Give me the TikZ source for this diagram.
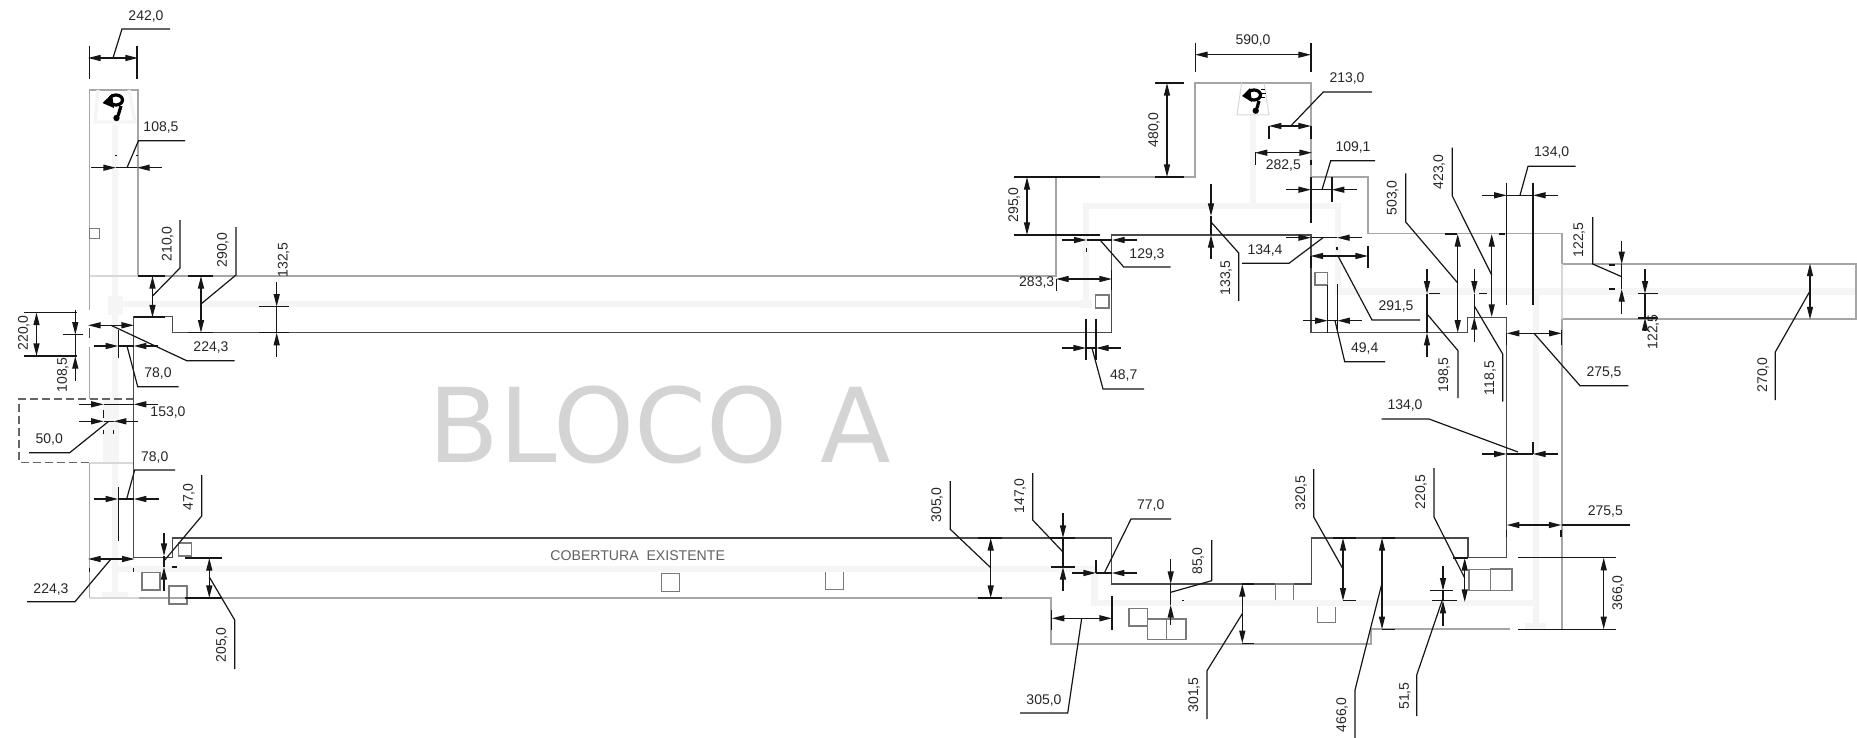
\documentclass[tikz,border=0pt]{standalone}
\usepackage{fontspec}
\setmainfont{Liberation Sans}
\newfontfamily\blocofont{DejaVu Sans}
\usetikzlibrary{arrows.meta}
\definecolor{wallg}{HTML}{A6A6A6}
\definecolor{walll}{HTML}{D8D8D8}
\definecolor{walld}{HTML}{4A4A4A}
\definecolor{bandc}{HTML}{F5F5F5}
\definecolor{dimc}{HTML}{161616}
\tikzset{
 wallgray/.style={draw=wallg,line width=0.9pt},
 walllight/.style={draw=walll,line width=0.8pt},
 walldark/.style={draw=walld,line width=0.65pt},
 bandline/.style={draw=bandc,line width=3.3pt},
 bandfill/.style={fill=bandc,draw=none},
 sq/.style={draw=black!52,line width=0.55pt},
 dimln/.style={draw=dimc,line width=0.6pt},
 dimtip/.style={dimln,-{Triangle[length=6.3pt,width=3pt]}},
 dimboth/.style={dimln,{Triangle[length=6.3pt,width=3pt]}-{Triangle[length=6.3pt,width=3pt]}},
 dimtxt/.style={font=\fontsize{7pt}{8pt}\selectfont,text=black!85,inner sep=0pt},
}
\newcount\lblcount
\newcommand\dtxt[3]{\global\advance\lblcount by 1 \node[dimtxt] (lbl\the\lblcount) at (#1,#2+1) {#3};}
\newcommand\vtxt[3]{\global\advance\lblcount by 1 \node[dimtxt,rotate=90] (lbl\the\lblcount) at (#1+1,#2) {#3};}
% horizontal dim, arrows from outside: y, x0, tipa, tipb, x3
\newcommand\hout[5]{\draw[dimtip] (#2,#1) -- (#3,#1); \draw[dimtip] (#5,#1) -- (#4,#1); \draw[dimln] (#3,#1) -- (#4,#1);}
\newcommand\vout[5]{\draw[dimtip] (#1,#2) -- (#1,#3); \draw[dimtip] (#1,#5) -- (#1,#4); \draw[dimln] (#1,#3) -- (#1,#4);}
\newcommand\hin[3]{\draw[dimboth] (#2,#1) -- (#3,#1);}
\newcommand\vin[3]{\draw[dimboth] (#1,#2) -- (#1,#3);}
\newcommand\lnn[4]{\draw[dimln] (#1,#2) -- (#3,#4);}
\newcommand\ldr[6]{\draw[dimln] (#1,#2) -- (#3,#4) -- (#5,#6);}
\begin{document}
\begin{tikzpicture}[x=0.5pt,y=-0.5pt]
\path[use as bounding box,fill=white] (0,0) rectangle (1857,738);
% light bands
\draw[bandline] (115,125) -- (115,598);
\draw[bandline] (115,304) -- (1086,304) -- (1086,206) -- (1338,206) -- (1338,291.5) -- (1855,291.5);
\draw[bandline] (1253,115) -- (1253,206);
\draw[bandline] (1536,291.5) -- (1536,623);
\draw[bandline] (115,569) -- (1094.7,569) -- (1094.7,603) -- (1536,603);
\fill[bandfill] (108,296) rectangle (123,315);
\fill[bandfill] (103,398) rectangle (119,462);
\fill[bandfill] (102,592) rectangle (128,598);
\fill[bandfill] (1525,623) rectangle (1546,629);
\fill[bandfill] (1080,300) rectangle (1092,308);
% grey outline
\draw[wallgray] (89.5,310) -- (89.5,90) -- (138,90) -- (138,276) -- (1055.7,276) -- (1055.7,176.7) -- (1195,176.7) -- (1195,82.7) -- (1311,82.7) -- (1311,176.7) -- (1368,176.7) -- (1368,233.5) -- (1561.7,233.5) -- (1561.7,264.3) -- (1855.7,264.3) -- (1855.7,319) -- (1561.7,319) -- (1561.7,629.3);
\draw[walllight] (89.5,276) -- (138,276);
\draw[walllight] (1561.7,264.3) -- (1561.7,319);
\draw[wallgray] (89.5,347) -- (89.5,399);
\draw[walld] (89.5,328) -- (89.5,338);
\draw[wallgray] (89.5,462.7) -- (89.5,598.2);
\draw[walllight] (89.5,598.2) -- (139,598.2);
\draw[walllight] (89.5,462.7) -- (133.7,462.7);
\draw[wallgray] (139,598.2) -- (1051.3,598.2) -- (1051.3,643.6) -- (1371,643.6) -- (1371,629.3) -- (1510,629.3);
% dashed box
\draw[draw=black!60,line width=0.6pt,dash pattern=on 4pt off 2pt] (133.7,399) -- (19,399) -- (19,462.7) -- (89.5,462.7);
% dark outline
\draw[walldark] (133.7,557.7) -- (133.7,316.7) -- (172.8,316.7) -- (172.8,332.7) -- (1111.7,332.7) -- (1111.7,235) -- (1311,235) -- (1311,332.7) -- (1467.3,332.7) -- (1467.3,317.3) -- (1506.7,317.3) -- (1506.7,557.7) -- (1468,557.7) -- (1468,538) -- (1311.3,538) -- (1311.3,584) -- (1111.7,584) -- (1111.7,538) -- (172.8,538) -- (172.8,557.7);
\draw[walld] (133.7,557.7) -- (172.8,557.7);
% squares
\draw[sq] (89.3,228.3) rectangle (99.3,238.3);
\draw[sq] (142,572.7) rectangle (160,590);
\draw[sq] (169,586) rectangle (187,604);
\draw[sq] (178.3,543) rectangle (191.3,556);
\draw[sq] (661.7,573.3) rectangle (679.7,591.7);
\draw[sq] (825.7,572) -- (825.7,589.3) -- (843.7,589.3) -- (843.7,572);
\draw[sq] (1095.7,295) rectangle (1109,308);
\draw[sq] (1315,272.3) rectangle (1327.7,285);
\draw[sq] (1129,608.7) rectangle (1147.3,626);
\draw[sq] (1147.3,619) rectangle (1166.7,639.3);
\draw[sq] (1166.7,619) rectangle (1186,639.3);
\draw[sq] (1275.7,600) -- (1275.7,584) -- (1293.3,584) -- (1293.3,600);
\draw[sq] (1317.3,606.7) -- (1317.3,622.7) -- (1335.7,622.7) -- (1335.7,606.7);
\draw[sq] (1469,569.3) rectangle (1490.7,590.7);
\draw[sq] (1490.7,569) rectangle (1512,590.7);
% symbols
\draw[draw=bandc,line width=1.6pt] (98,90) -- (95,122) -- (135,122) -- (129,90);
\draw[draw=walll,line width=0.5pt] (1241.7,82.7) -- (1237,115) -- (1269,115) -- (1264,82.7);
\draw[black,line width=1.6pt] (116,100) ellipse [x radius=6.5,y radius=5];
\fill[black] (102.5,103) -- (112,94) -- (114,108) -- cycle;
\draw[black,line width=1.6pt] (121,106) -- (118,116);
\fill[black] (116.5,118) circle [radius=3.2];
\draw[black,line width=1.6pt] (1254,95) ellipse [x radius=6.5,y radius=5];
\fill[black] (1242,96) -- (1250,88) -- (1252,102) -- cycle;
\draw[black,line width=1.6pt] (1259,101) -- (1257,108);
\fill[black] (1255.7,110.7) circle [radius=3.2];
\draw[black,line width=0.5pt] (1261,90) -- (1265,90) (1261,94) -- (1266,94) (1261,98) -- (1265,98);
% big labels
\node[font=\blocofont\fontsize{51.6pt}{52pt}\selectfont,text=black!17,inner sep=0pt] (bloco) at (660,424.5) {BLOCO A};
\node[font=\fontsize{7.05pt}{8pt}\selectfont,text=black!62,inner sep=0pt] (cobertura) at (637.7,556) {COBERTURA\ \ EXISTENTE};
% --- dimensions ---
% 242,0
\lnn{89.5}{46}{89.5}{79} \lnn{137}{46}{137}{79} \hin{58}{88}{138}
\ldr{113}{58}{122}{29}{170}{29} \dtxt{146}{15.5}{242,0}
% 108,5 top
\hout{167.7}{91}{116}{137}{162}
\ldr{127}{167.7}{138.5}{140.7}{185}{140.7} \dtxt{161}{127}{108,5}
\lnn{116}{154.5}{116}{156} \lnn{137}{154.5}{137}{156}
% 210,0
\lnn{138}{276}{165}{276} \lnn{134}{317}{165}{317} \vin{152.5}{276}{317.5}
\ldr{152.5}{296}{180}{268}{180}{220} \vtxt{166.7}{244}{210,0}
% 290,0
\lnn{188}{276}{213}{276} \lnn{188}{332.7}{213}{332.7} \vin{201}{276}{332.7}
\ldr{201}{304}{236}{275}{236}{227} \vtxt{222}{250}{290,0}
% 132,5
\lnn{258.7}{306.7}{289}{306.7} \lnn{258.7}{332.7}{289}{332.7} \vout{276.7}{282}{306.7}{332.7}{357}
\vtxt{282.7}{260}{132,5}
% 220,0
\lnn{24}{312.5}{77}{312.5} \lnn{24}{356}{77}{356} \vin{36.5}{312.5}{356}
\vtxt{23}{333}{220,0}
% 108,5 left
\vout{75.3}{310}{334.7}{356}{381} \lnn{63}{334.7}{83}{334.7}
\vtxt{62}{375}{108,5}
% 224,3 top
\hin{325.3}{88}{134} \ldr{111}{325.3}{186.7}{360.7}{234.7}{360.7} \dtxt{211}{347}{224,3}
% 78,0
\hout{346}{94}{118.3}{133.7}{158} \lnn{118.3}{330}{118.3}{358}
\ldr{127}{346}{137.7}{386.7}{178.7}{386.7} \dtxt{158}{373}{78,0}
% 153,0
\hout{404.3}{79}{103.7}{133.7}{158} \lnn{103.7}{410}{103.7}{418} \dtxt{168}{411.7}{153,0}
% 50,0
\hout{421.3}{79}{103.7}{113.7}{138}
\ldr{108.7}{421.3}{69.7}{452.7}{29}{452.7} \dtxt{49.3}{439}{50,0}
\lnn{103.7}{430}{103.7}{434} \lnn{113.7}{430}{113.7}{434}
% 78,0 lower
\hout{499}{94}{118.3}{133.7}{158.7} \lnn{118.3}{486.7}{118.3}{540.7}
\ldr{126.7}{499}{134.7}{470}{175}{470} \dtxt{154.7}{456.7}{78,0}
% 47,0
\vout{164}{533.3}{556}{567}{591}
\lnn{172}{567}{177}{567}
\ldr{164}{561}{201.7}{516}{201.7}{475} \vtxt{188}{497}{47,0}
% 224,3 lower
\hin{559}{88}{134.7} \ldr{111}{559}{75}{601.7}{27}{601.7} \dtxt{51}{588.7}{224,3}
\lnn{89.5}{568}{89.5}{572} \lnn{133.7}{568}{133.7}{572}
% 205,0
\lnn{185}{557.9}{222}{557.9} \lnn{185}{598}{222}{598} \vin{209.3}{558}{598}
\ldr{209.3}{577}{234.7}{620}{234.7}{669} \vtxt{221}{645}{205,0}
% 305,0 left
\lnn{978}{538}{1002}{538} \lnn{978}{598}{1002}{598} \vin{990.7}{538}{598}
\ldr{990.7}{567.7}{950.3}{529.3}{950.3}{481} \vtxt{936}{505}{305,0}
% 147,0
\vout{1063}{513}{538}{567}{591} \lnn{1050}{538}{1075}{538} \lnn{1051}{567}{1075}{567}
\ldr{1063}{552}{1032.7}{520}{1032.7}{473} \vtxt{1019}{496}{147,0}
% 77,0
\hout{573}{1072}{1096}{1111.7}{1136.7} \lnn{1096}{560}{1096}{573}
\ldr{1104.3}{573}{1131}{519}{1171}{519} \dtxt{1150.7}{505}{77,0}
% 85,0
\vout{1170.7}{559}{584}{605}{625}
\ldr{1170.7}{592.3}{1211.7}{580.7}{1211.7}{540} \vtxt{1197}{561}{85,0}
\lnn{1183}{600}{1183}{601}
% 305,0 lower
\lnn{1051.7}{610}{1051.7}{630} \lnn{1112}{596}{1112}{630} \hin{618.3}{1051.7}{1112}
\ldr{1081.7}{618.3}{1067.7}{713}{1020}{713} \dtxt{1044}{699}{305,0}
% 301,5
\lnn{1242.3}{584}{1254}{584} \lnn{1242.3}{643.3}{1254}{643.3} \vin{1242.3}{584}{643.3}
\ldr{1242.3}{613.7}{1207}{670.7}{1207}{719} \vtxt{1193}{695}{301,5}
% 320,5
\lnn{1333}{538}{1356}{538} \lnn{1343}{600.7}{1356}{600.7} \vin{1343}{538}{600.7}
\ldr{1343}{569}{1313.7}{517}{1313.7}{469} \vtxt{1300}{493}{320,5}
% 466,0
\lnn{1382}{538}{1395}{538} \lnn{1382}{629.3}{1395}{629.3} \vin{1382}{538}{629.3}
\ldr{1382}{583}{1355}{690}{1355}{738} \vtxt{1341}{715}{466,0}
% 220,5
\lnn{1453}{557.9}{1468}{557.9} \vin{1464.7}{558}{602}
\ldr{1464.7}{578}{1434}{517}{1434}{468} \vtxt{1420}{492}{220,5}
% 51,5
\vout{1443}{566}{590.7}{600.7}{625.7} \lnn{1430}{590.7}{1453}{590.7} \lnn{1432}{600.7}{1457}{600.7}
\ldr{1443}{598}{1416.7}{675}{1416.7}{716} \vtxt{1404}{696}{51,5}
% 134,0 lower
\hout{454}{1482}{1506.7}{1533}{1558} \lnn{1533}{441.7}{1533}{454}
\ldr{1518}{452}{1429}{419}{1381.7}{419} \dtxt{1405}{405}{134,0}
% 275,5 lower
\hin{525}{1506.7}{1561.5} \lnn{1561.5}{525}{1630}{525} \lnn{1506.7}{530}{1506.7}{537} \lnn{1561}{530}{1561}{537}
\dtxt{1605.3}{511}{275,5}
% 366,0
\lnn{1518}{557.7}{1616}{557.7} \lnn{1518}{629.3}{1616}{629.3} \vin{1603.7}{557.7}{629.3}
\vtxt{1617}{593}{366,0}
% 590,0
\lnn{1195.7}{42.7}{1195.7}{71.7} \lnn{1311}{42.7}{1311}{71.7} \hin{54.7}{1195}{1311}
\dtxt{1253}{40}{590,0}
% 480,0
\lnn{1155}{83}{1183.7}{83} \lnn{1155}{177}{1183.7}{177} \vin{1167}{83}{177}
\vtxt{1153}{130}{480,0}
% 213,0
\lnn{1269}{126}{1269}{138.7} \lnn{1311}{126}{1311}{138.7} \hin{126}{1268.7}{1311}
\ldr{1290.7}{126}{1323.3}{92}{1372}{92} \dtxt{1347}{78}{213,0}
% 282,5
\hin{152.7}{1254.7}{1312} \lnn{1255.7}{152}{1255.7}{165} \lnn{1311}{160}{1311}{165}
\dtxt{1283.3}{164.3}{282,5}
% 109,1
\hout{189.7}{1286}{1311}{1331.7}{1357} \lnn{1311}{177}{1311}{222.7} \lnn{1332}{177}{1332}{201.7}
\ldr{1322}{189.7}{1330.7}{160.7}{1375}{160.7} \dtxt{1353}{146.7}{109,1}
% 295,0
\lnn{1014}{177}{1100}{177} \lnn{1014}{235}{1100}{235} \vin{1027}{177}{235}
\vtxt{1013}{205}{295,0}
% 129,3
\hout{240}{1062}{1086.7}{1112}{1136.7} \lnn{1086.7}{248}{1086.7}{252}
\ldr{1100}{240}{1123.7}{267}{1170.7}{267} \dtxt{1147}{253.3}{129,3}
% 133,5
\vout{1211}{184}{216}{235}{259}
\ldr{1211}{222}{1238.7}{253}{1238.7}{301} \vtxt{1225}{278}{133,5}
% 134,4
\hout{237.7}{1286}{1311}{1337}{1362} \lnn{1337}{247}{1337}{250}
\ldr{1323}{237.7}{1289}{263.3}{1242}{263.3} \dtxt{1265}{249.3}{134,4}
% 291,5
\hin{256}{1310.5}{1368} \lnn{1311}{256}{1311}{268} \lnn{1368}{246}{1368}{268}
\ldr{1338}{256}{1372}{320}{1420}{320} \dtxt{1396}{306}{291,5}
% 283,3
\hin{279}{1056}{1112} \lnn{1056.3}{279}{1056.3}{291} \lnn{1111.7}{270}{1111.7}{290}
\dtxt{1036.7}{282}{283,3}
% 48,7
\hout{348}{1061.7}{1086}{1096}{1120.7} \lnn{1086}{318.7}{1086}{360} \lnn{1096}{318.7}{1096}{360}
\ldr{1092}{348}{1103}{389}{1144}{389} \dtxt{1123.7}{375}{48,7}
% 49,4
\hout{320.7}{1303}{1327.7}{1337.3}{1362} \lnn{1327.7}{285}{1327.7}{333} \lnn{1337.3}{284}{1337.3}{333}
\ldr{1335}{320.7}{1344.7}{361.7}{1385}{361.7} \dtxt{1364.7}{348}{49,4}
% 134,0 top
\hout{195.3}{1482}{1506.7}{1533}{1558} \lnn{1506.7}{182.7}{1506.7}{305} \lnn{1533}{182.7}{1533}{305}
\ldr{1520}{195.3}{1528}{166.3}{1575.7}{166.3} \dtxt{1551.7}{152}{134,0}
% 503,0
\lnn{1445}{234}{1457}{234} \vin{1457.7}{234}{332.7}
\ldr{1457.7}{283}{1405.7}{222}{1405.7}{173.3} \vtxt{1391.7}{198}{503,0}
% 423,0
\lnn{1499}{234}{1505}{234} \vin{1491.7}{234}{317}
\ldr{1491.7}{275}{1452.3}{196}{1452.3}{147.7} \vtxt{1438}{172}{423,0}
% 198,5
\vout{1427}{269.3}{293.7}{332.7}{357.3} \lnn{1429}{293.7}{1440}{293.7}
\ldr{1427}{314}{1458}{350.7}{1458}{398} \vtxt{1443}{375}{198,5}
% 118,5
\vout{1474.3}{269.3}{293.7}{317}{341.7} \lnn{1479}{293.7}{1487}{293.7}
\ldr{1474.3}{306}{1502.7}{354}{1502.7}{401.7} \vtxt{1489}{378}{118,5}
% 275,5
\hin{333.3}{1506.7}{1561.7} \lnn{1506.7}{333.3}{1506.7}{345} \lnn{1561.7}{330}{1561.7}{345}
\ldr{1534}{333.3}{1580}{385.7}{1628.3}{385.7} \dtxt{1604}{372}{275,5}
% 122,5 first
\vout{1621.7}{240.7}{264.3}{289}{313.7}
\lnn{1609}{265}{1615}{265} \lnn{1609}{289}{1615}{289}
\ldr{1621.7}{276.7}{1592.7}{264}{1592.7}{217} \vtxt{1578}{240}{122,5}
% 122,5 second
\vout{1645}{269.3}{293.7}{318}{330} \lnn{1638}{293.7}{1658}{293.7} \lnn{1638}{318}{1658}{318}
\vtxt{1652.3}{332}{122,5}
% 270,0
\vin{1810}{263.5}{319.5}
\ldr{1810}{291}{1775.3}{352}{1775.3}{400} \vtxt{1762}{375}{270,0}
\end{tikzpicture}
\end{document}
